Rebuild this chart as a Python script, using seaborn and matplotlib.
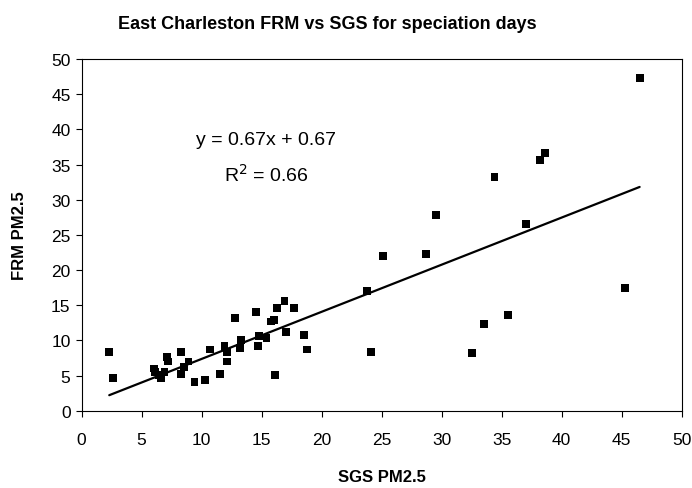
import matplotlib
matplotlib.use("Agg")
import matplotlib.pyplot as plt
import seaborn as sns
import numpy as np
import pandas as pd

sgs = [2.3, 2.6, 6.0, 6.1, 6.4, 6.6, 6.9, 7.1, 7.2, 8.3, 8.5, 8.3, 8.9, 9.4, 10.3,
       10.7, 11.5, 11.9, 12.1, 12.1, 12.8, 13.2, 13.3, 14.5, 14.7, 14.8, 15.4, 15.8,
       16.0, 16.1, 16.3, 16.9, 17.0, 17.7, 18.5, 18.8, 23.8, 24.1, 25.1, 28.7, 29.5,
       32.5, 33.5, 34.4, 35.5, 37.0, 38.2, 38.6, 45.3, 46.5]
frm = [8.3, 4.7, 6.0, 5.5, 5.1, 4.6, 5.5, 7.6, 7.0, 8.3, 6.2, 5.2, 7.0, 4.1, 4.4,
       8.7, 5.2, 9.2, 8.3, 7.0, 13.2, 8.9, 10.0, 14.1, 9.2, 10.6, 10.3, 12.7,
       12.9, 5.1, 14.6, 15.6, 11.2, 14.6, 10.8, 8.7, 17.0, 8.3, 22.0, 22.3, 27.8,
       8.2, 12.3, 33.2, 13.6, 26.6, 35.6, 36.6, 17.5, 47.3]
slope = 0.67
intercept = 0.67
r_squared = 0.66
x_ticks = [0, 5, 10, 15, 20, 25, 30, 35, 40, 45, 50]
y_ticks = [0, 5, 10, 15, 20, 25, 30, 35, 40, 45, 50]

df = pd.DataFrame({"SGS": sgs, "FRM": frm})

sns.set_theme(style="white")
plt.rcParams["font.family"] = ["Liberation Sans", "DejaVu Sans"]

fig = plt.figure(figsize=(6.92, 4.89), dpi=100)
ax = fig.add_axes([0.118, 0.158, 0.867, 0.719])

sns.scatterplot(data=df, x="SGS", y="FRM", marker="s", s=32, color="black",
                edgecolor="none", linewidth=0, ax=ax, zorder=3)

xl = np.array([min(sgs), max(sgs)])
trend = pd.DataFrame({"x": xl, "y": slope * xl + intercept})
sns.lineplot(data=trend, x="x", y="y", color="black", linewidth=1.6, ax=ax, zorder=2)

ax.set_xlim(0, 50)
ax.set_ylim(0, 50)
ax.set_xticks(x_ticks)
ax.set_yticks(y_ticks)
ax.tick_params(axis="both", direction="out", length=4, width=0.8, color="black",
               labelsize=12.5, labelcolor="black", bottom=True, left=True)
ax.tick_params(axis="x", pad=11)
ax.tick_params(axis="y", pad=4)
for sp in ax.spines.values():
    sp.set_color("black")
    sp.set_linewidth(0.8)
    sp.set_visible(True)
ax.grid(False)

ax.set_xlabel("SGS PM2.5", fontsize=12, fontweight="bold", color="black", labelpad=16)
ax.set_ylabel("FRM PM2.5", fontsize=12, fontweight="bold", color="black", labelpad=17)
fig.suptitle("East Charleston FRM vs SGS for speciation days", x=0.473, y=0.968,
             fontsize=13, fontweight="bold", color="black")

ax.text(15.4, 38.6, f"y = {slope:.2f}x + {intercept:.2f}", fontsize=14,
        ha="center", va="center", color="black")
ax.text(15.4, 33.7, f"R$^2$ = {r_squared:.2f}", fontsize=14,
        ha="center", va="center", color="black")

fig.savefig("out.png", dpi=100, facecolor="white")
